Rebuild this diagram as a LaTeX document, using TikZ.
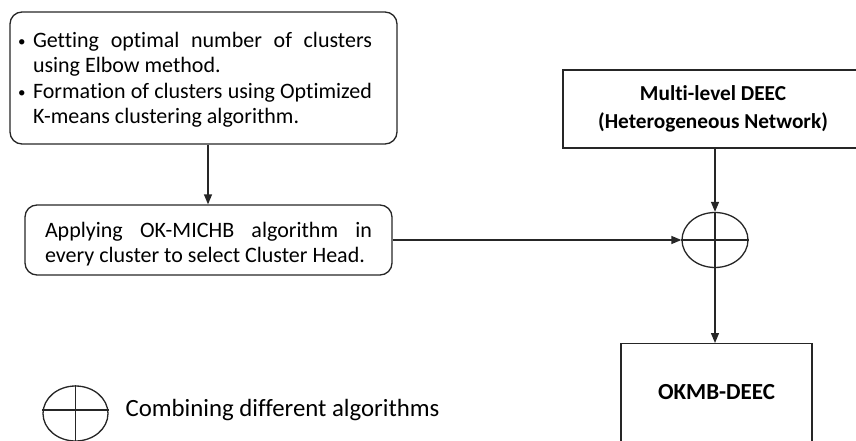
\documentclass[tikz,border=0pt]{standalone}
\usepackage{fontspec}
\setmainfont{Carlito}[Ligatures=NoCommon]
\usetikzlibrary{arrows.meta,shapes.geometric}
\hyphenpenalty=10000
\exhyphenpenalty=10000
\tikzset{
  line/.style={draw=black!85, line width=1.3pt},
  arr/.style={line, -{Triangle[length=10pt,width=8pt]}},
  roundbox/.style={line, rounded corners=12pt, inner sep=0pt},
  plainbox/.style={line, inner sep=0pt},
  combiner/.style={line, ellipse, minimum width=66pt, minimum height=55pt, inner sep=0pt},
  txt/.style={font=\fontsize{22}{25.5}\selectfont},
  bld/.style={font=\fontsize{21.3}{28}\selectfont\bfseries},
}
\newcommand{\bulletitem}[1]{\hangindent=15pt\hangafter=1\noindent\makebox[15pt][l]{\raisebox{1pt}{\fontsize{15}{15}\selectfont\textbullet}}#1\par}
\begin{document}
\begin{tikzpicture}[x=1pt,y=-1pt]
  \useasboundingbox (0,0) rectangle (856,441);
  % boxes
  \node[roundbox, minimum width=387pt, minimum height=132pt] (top) at (203.5,78) {};
  \node[txt, text width=354pt, align=justify] (toptext) at (195,80)
    {\bulletitem{Getting optimal number of clusters\linebreak using Elbow method.}\bulletitem{Formation of clusters using Optimized\linebreak K-means clustering algorithm.}};
  \node[roundbox, minimum width=367pt, minimum height=70pt] (apply) at (208.5,240) {};
  \node[txt, text width=327pt, align=justify] (applytext) at (208.5,244)
    {Applying OK-MICHB algorithm in\linebreak every cluster to select Cluster Head.};
  \node[plainbox, minimum width=300pt, minimum height=78pt, bld, align=center] (multi) at (713,109)
    {Multi-level DEEC\\(Heterogeneous Network)};
  \node[plainbox, minimum width=191pt, minimum height=140pt, anchor=north] (okmb) at (716.5,343) {};
  \node[font=\fontsize{23}{28}\selectfont\bfseries] (okmbtext) at (716.5,392) {OKMB-DEEC};
  % combiner
  \node[combiner] (comb) at (715,240) {};
  \draw[line] (comb.north) -- (comb.south);
  \draw[line] (comb.west) -- (comb.east);
  % connectors
  \draw[arr] ([xshift=4.5pt]top.south) -- ([xshift=4.5pt]top.south |- apply.north);
  \draw[arr] (apply.east) -- (comb.west);
  \draw[arr] (multi.south -| comb.north) -- (comb.north);
  \draw[arr] (comb.south) -- (okmb.north -| comb.south);
  % legend
  \node[combiner, minimum width=65pt] (legend) at (75.5,413.5) {};
  \draw[line] (legend.north) -- (legend.south);
  \draw[line] ([yshift=3.5pt]legend.west) -- ([yshift=3.5pt]legend.east);
  \node[font=\fontsize{24.8}{28}\selectfont, anchor=west] (legendtext) at (122,410) {Combining different algorithms};
\end{tikzpicture}
\end{document}
